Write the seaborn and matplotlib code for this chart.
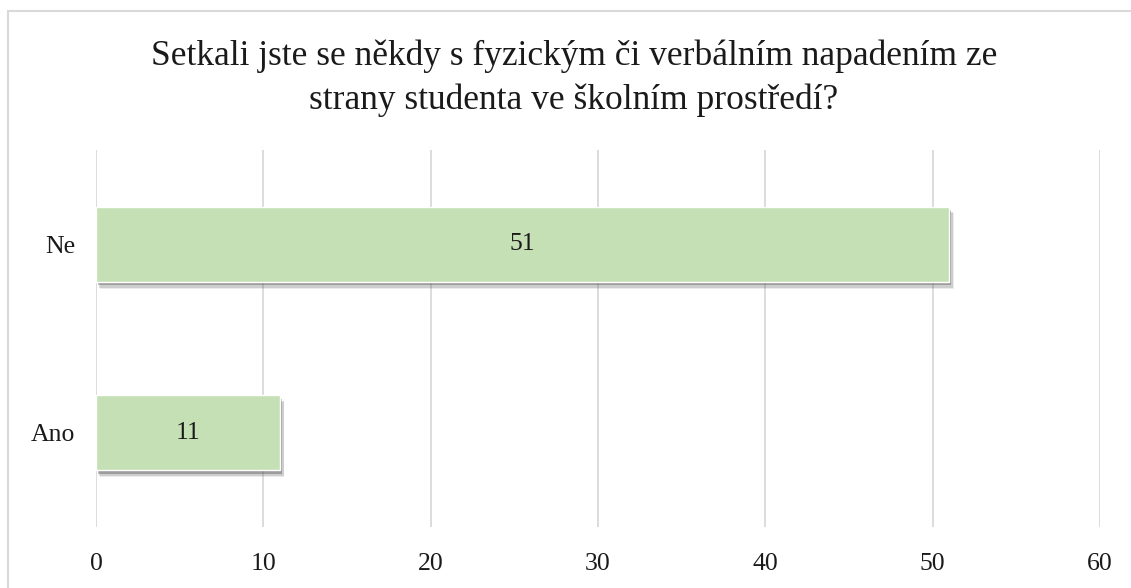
import matplotlib
matplotlib.use('Agg')
import matplotlib.pyplot as plt
import matplotlib.patheffects as pe
import pandas as pd
import seaborn as sns

# data
kategorie = ['Ne', 'Ano']
pocty = [51, 11]
ticks = [0, 10, 20, 30, 40, 50, 60]
titulek = 'Setkali jste se někdy s fyzickým či verbálním napadením ze\nstrany studenta ve školním prostředí?'

df = pd.DataFrame({'odpoved': kategorie, 'pocet': pocty})

sns.set_style('white')
plt.rcParams['font.family'] = ['Liberation Serif', 'DejaVu Serif']

fig = plt.figure(figsize=(11.31, 5.88), dpi=100)
ax = fig.add_axes([96/1131, 1-527/588, 1004/1131, 377/588])

sns.barplot(data=df, x='pocet', y='odpoved', order=kategorie, color='#C5E0B4',
            saturation=1, width=0.4, ax=ax, zorder=3)

# soft drop shadow like in Excel (a few stacked shadows)
for bar in ax.patches:
    bar.set_path_effects([pe.SimplePatchShadow(offset=(3, -5), shadow_rgbFace='#666666', alpha=0.12),
                          pe.SimplePatchShadow(offset=(2.5, -4), shadow_rgbFace='#555555', alpha=0.2),
                          pe.SimplePatchShadow(offset=(1.5, -2.5), shadow_rgbFace='#444444', alpha=0.35),
                          pe.Normal()])

for bar, val in zip(ax.patches, df['pocet']):
    ax.text(bar.get_x() + bar.get_width() / 2, bar.get_y() + bar.get_height() / 2, str(val),
            ha='center', va='center', fontsize=18.5, color='#1a1a1a', zorder=4)

ax.set_xlim(0, 60)
ax.set_ylim(1.5, -0.5)
ax.set_xticks(ticks)
ax.grid(axis='x', color='#D9D9D9', linewidth=1.3, zorder=0)
ax.grid(axis='y', visible=False)
for s in ax.spines.values():
    s.set_visible(False)
ax.tick_params(axis='both', length=0, labelsize=18.5, labelcolor='#1a1a1a')
ax.tick_params(axis='x', pad=19)
ax.tick_params(axis='y', pad=15)
ax.set_xlabel('')
ax.set_ylabel('')

fig.text(574/1131, 1-78/588, titulek, ha='center', va='center', fontsize=25.5,
         color='#1a1a1a', linespacing=1.42)

# chart border
fig.add_artist(plt.Rectangle((7.5/1131, -0.1), 1.2, 0.1 + (588-10.5)/588, transform=fig.transFigure,
                             fill=False, edgecolor='#D9D9D9', linewidth=1.5))

fig.savefig('out.png', dpi=100)
